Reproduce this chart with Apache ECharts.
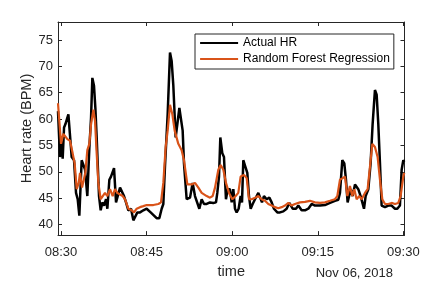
<!DOCTYPE html>
<html>
<head>
<meta charset="utf-8">
<script src="https://cdn.jsdelivr.net/npm/echarts@6/dist/echarts.min.js"></script>
<style>
html,body{margin:0;padding:0;background:#fff;}
#chart{width:447px;height:284px;}
</style>
</head>
<body>
<div id="chart"></div>
<script>
// Minutes after 08:30 on Nov 06, 2018
const actualMinutes = [-0.53,-0.18,0.18,0.29,0.53,0.76,1.29,1.58,1.87,2.28,2.63,2.92,3.21,3.62,3.91,4.21,4.61,4.96,5.26,5.49,5.78,6.02,6.25,6.66,6.95,7.24,7.54,7.89,8.12,8.47,8.76,9.29,9.64,9.87,10.34,10.63,11.04,11.39,11.80,12.27,12.68,12.97,13.38,13.84,14.43,15.01,15.71,16.30,16.76,17.23,17.64,17.93,18.22,18.69,19.10,19.39,19.68,20.09,20.39,20.74,21.03,21.32,21.55,22.02,22.61,23.07,23.48,24.24,24.65,25.06,25.53,26.11,26.69,27.16,27.39,27.69,27.92,28.27,28.56,28.91,29.21,29.61,29.91,30.20,30.49,30.78,31.13,31.48,31.72,31.95,32.30,32.65,32.94,33.24,33.59,34.00,34.58,34.87,35.22,35.57,36.04,36.51,36.92,37.32,37.91,38.38,38.96,39.54,40.01,40.30,40.60,41.18,41.59,42.17,42.76,43.34,43.93,44.51,45.39,46.26,47.14,48.01,48.60,48.89,49.30,49.65,49.94,50.23,50.53,50.76,51.11,51.52,51.81,52.10,52.51,53.10,53.39,53.86,54.26,54.61,55.02,55.32,55.61,55.90,56.19,56.78,57.36,57.94,58.53,58.94,59.40,59.70,59.99,60.16];
const actualHR = [61.5,52.8,56.5,52.5,58.4,59.0,60.9,60.6,52.8,52.2,46.0,44.8,41.7,52.2,51.9,50.4,45.4,54.4,60.2,67.8,66.3,62.1,56.5,45.4,42.7,44.2,43.6,44.8,43.0,48.5,49.1,50.7,44.2,43.9,47.0,47.3,45.4,44.2,42.7,43.0,40.8,41.1,42.3,42.3,42.7,43.0,42.3,41.7,41.2,41.2,43.0,43.9,51.0,60.9,72.6,71.0,66.4,56.5,56.5,62.1,62.1,57.8,51.6,44.8,45.1,47.9,45.4,43.0,44.8,43.9,43.9,44.2,44.1,44.2,46.0,49.1,56.5,53.5,52.8,44.8,46.7,46.7,44.2,46.7,43.0,42.3,43.0,45.4,44.2,52.2,51.0,49.8,45.4,43.0,43.9,44.8,46.0,45.7,44.2,45.4,44.8,45.1,44.2,43.0,42.3,42.3,42.5,43.0,44.1,43.9,43.0,43.0,43.6,42.7,42.7,43.0,43.9,43.6,43.6,43.7,44.1,44.5,44.7,46.0,52.2,51.6,48.5,44.2,43.9,46.7,45.4,47.6,47.9,46.7,45.4,43.0,45.4,46.7,51.6,59.0,65.5,64.6,59.0,51.6,43.6,43.3,43.6,43.6,43.0,43.0,43.6,50.4,52.2,51.9];

const rfMinutes = [-0.53,0.00,0.41,0.76,1.11,1.58,2.04,2.39,2.75,3.10,3.33,3.68,4.03,4.26,4.61,4.96,5.26,5.67,5.96,6.25,6.54,6.95,7.30,7.71,8.12,8.59,9.05,9.46,9.87,10.34,10.81,11.21,11.80,12.38,12.79,13.26,13.84,14.43,15.01,16.18,17.06,17.52,17.93,18.34,18.69,19.10,19.51,19.92,20.56,21.14,21.55,22.14,22.90,23.48,24.07,24.65,25.53,26.11,26.58,26.99,27.57,27.98,28.45,28.91,29.44,30.02,30.61,31.07,31.48,32.07,32.54,32.94,33.41,34.00,34.58,35.16,35.75,36.33,36.92,37.50,38.08,38.67,39.25,39.84,40.42,41.00,41.88,42.76,43.63,44.51,45.39,46.26,47.14,48.01,48.42,48.89,49.36,49.77,50.18,50.64,51.05,51.40,51.81,52.28,52.69,53.27,53.74,54.15,54.56,55.02,55.49,55.90,56.31,56.78,57.36,57.94,58.53,59.11,59.52,59.99,60.16];
const rfHR = [63.0,55.3,57.2,57.5,56.2,55.9,53.5,51.6,46.7,47.9,49.8,47.0,46.7,49.8,54.1,55.3,59.0,61.8,59.6,53.5,47.9,44.8,44.8,46.0,45.4,46.7,45.4,46.7,46.0,45.7,45.4,44.8,43.0,42.7,42.3,43.0,43.3,43.5,43.7,43.7,43.9,44.2,47.9,54.7,57.8,62.7,60.9,57.8,55.3,54.1,52.2,47.6,47.6,47.9,47.0,46.0,45.4,45.1,45.4,47.0,50.4,51.3,50.4,47.9,46.0,44.8,45.4,46.0,49.1,49.4,48.8,44.8,44.8,45.1,45.4,44.8,44.5,43.9,43.6,43.3,43.1,43.3,43.6,44.1,43.6,43.9,44.2,44.3,44.5,44.2,44.1,44.2,44.5,44.8,45.4,48.5,48.8,49.1,45.4,47.3,45.4,46.7,44.8,45.4,44.8,46.0,46.7,51.0,55.3,54.7,52.8,48.5,44.8,43.9,43.9,44.1,43.9,44.1,45.4,49.1,49.8];

const xTickMinutes = [0, 15, 30, 45, 60];
const xTickLabels = ['08:30', '08:45', '09:00', '09:15', '09:30'];
const yTicks = [40, 45, 50, 55, 60, 65, 70, 75];
const seriesNames = ['Actual HR', 'Random Forest Regression'];
const dateLabel = 'Nov 06, 2018';
const xTitle = 'time';
const yTitle = 'Heart rate (BPM)';

const zip = (a, b) => a.map((v, i) => [v, b[i]]);
const FONT = 'Liberation Sans, Arial, Helvetica, sans-serif';
const AX = '#262626';
const X_MIN = -0.53, X_MAX = 60.2, Y_MIN = 38, Y_MAX = 78.4;

const chart = echarts.init(document.getElementById('chart'), null, {renderer: 'canvas'});
const axisLine = {show: true, onZero: false, lineStyle: {color: AX, width: 1}};
const tickStyle = {inside: true, length: 4, lineStyle: {color: AX, width: 1}};

chart.setOption({
  animation: false,
  backgroundColor: '#ffffff',
  grid: {left: 58, right: 42.5, top: 22, bottom: 44, containLabel: false},
  legend: {
    orient: 'vertical', left: 195, top: 34,
    data: seriesNames,
    borderColor: AX, borderWidth: 1, backgroundColor: '#fff',
    padding: [3, 4, 4, 4], itemGap: 4, itemWidth: 38, itemHeight: 14,
    itemStyle: {color: 'transparent', borderColor: 'transparent', borderWidth: 0, opacity: 0},
    lineStyle: {width: 2.2},
    textStyle: {fontFamily: FONT, fontSize: 12, color: '#000'},
    selectedMode: false
  },
  xAxis: [{
    type: 'value', min: X_MIN, max: X_MAX, position: 'bottom',
    name: xTitle, nameLocation: 'middle', nameGap: 25,
    nameTextStyle: {fontFamily: FONT, fontSize: 14.5, color: AX},
    axisLine: axisLine,
    axisTick: Object.assign({customValues: xTickMinutes}, tickStyle),
    axisLabel: {customValues: xTickMinutes, margin: 11, fontFamily: FONT, fontSize: 13, color: AX,
      formatter: v => xTickLabels[xTickMinutes.indexOf(Math.round(v))] || ''},
    splitLine: {show: false}
  }, {
    type: 'value', min: X_MIN, max: X_MAX, position: 'top',
    axisLine: axisLine,
    axisTick: Object.assign({customValues: xTickMinutes}, tickStyle),
    axisLabel: {show: false},
    splitLine: {show: false}
  }],
  yAxis: [{
    type: 'value', min: Y_MIN, max: Y_MAX, position: 'left',
    name: yTitle, nameLocation: 'middle', nameGap: 24, nameMoveOverlap: false,
    nameTextStyle: {fontFamily: FONT, fontSize: 14.5, color: AX},
    axisLine: axisLine,
    axisTick: Object.assign({customValues: yTicks}, tickStyle),
    axisLabel: {customValues: yTicks, margin: 5, fontFamily: FONT, fontSize: 13, color: AX},
    splitLine: {show: false}
  }, {
    type: 'value', min: Y_MIN, max: Y_MAX, position: 'right',
    axisLine: axisLine,
    axisTick: Object.assign({customValues: yTicks}, tickStyle),
    axisLabel: {show: false},
    splitLine: {show: false}
  }],
  graphic: [{
    type: 'text', right: 447 - 393, top: 267,
    style: {text: dateLabel, fontFamily: FONT, fontSize: 13, fill: AX}
  }],
  series: [{
    name: seriesNames[0], type: 'line', data: zip(actualMinutes, actualHR),
    symbol: 'none', showSymbol: false, color: '#000000',
    lineStyle: {color: '#000000', width: 2.5}
  }, {
    name: seriesNames[1], type: 'line', data: zip(rfMinutes, rfHR),
    symbol: 'none', showSymbol: false, color: '#D95319',
    lineStyle: {color: '#D95319', width: 2.2}
  }]
});
</script>
</body>
</html>
